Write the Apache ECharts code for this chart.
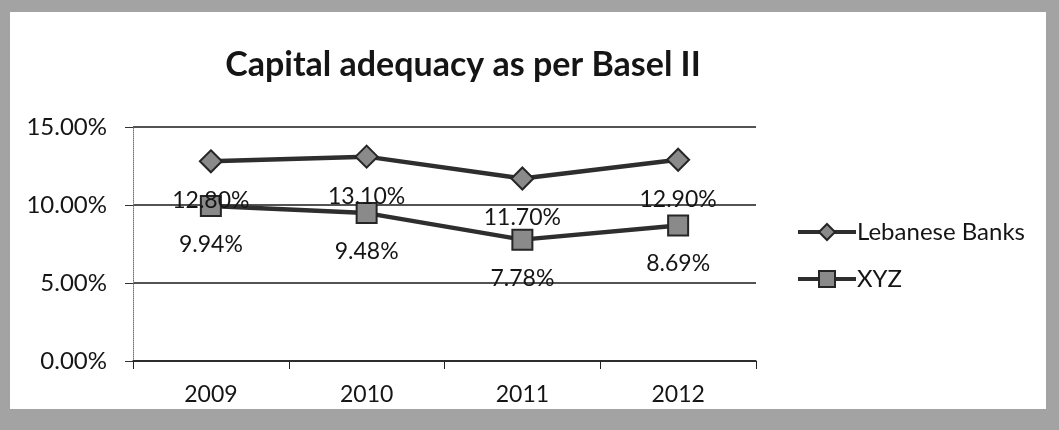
<!DOCTYPE html>
<html>
<head>
<meta charset="utf-8">
<script src="https://cdn.jsdelivr.net/npm/echarts@6/dist/echarts.min.js"></script>
<style>
  html, body { margin: 0; padding: 0; }
  body { width: 1059px; height: 430px; background: #a3a3a3; position: relative; overflow: hidden; }
  #chart { position: absolute; left: 10px; top: 12px; width: 1036px; height: 397px; background: #ffffff; }
</style>
</head>
<body>
<div id="chart"></div>
<script>
// Capital adequacy ratios (%) by year
const years = ['2009', '2010', '2011', '2012'];
const lebaneseBanks = [12.8, 13.1, 11.7, 12.9];
const xyz = [9.94, 9.48, 7.78, 8.69];
const yTicks = [0, 5, 10, 15];

const chart = echarts.init(document.getElementById('chart'), null, { renderer: 'canvas' });
const FONT = 'Lato, "Open Sans", sans-serif';
const INK = '#151515';

function lineSeries(name, data, symbol, size) {
  return {
    name: name,
    type: 'line',
    data: data,
    symbol: symbol,
    symbolSize: size,
    lineStyle: { color: '#2e2e2e', width: 4.5 },
    itemStyle: { color: '#8a8a8a', borderColor: '#262626', borderWidth: 2 },
    label: {
      show: true,
      position: 'bottom',
      distance: 16,
      color: INK,
      fontFamily: FONT,
      fontSize: 23,
      formatter: p => p.value.toFixed(2) + '%'
    },
    animation: false,
    z: 3
  };
}

chart.setOption({
  animation: false,
  title: {
    text: 'Capital adequacy as per Basel II',
    left: 448,
    textAlign: 'center',
    top: 31,
    textStyle: { fontFamily: FONT, fontWeight: 'bold', fontSize: 34, color: INK }
  },
  legend: {
    orient: 'vertical',
    left: 781,
    top: 203,
    itemGap: 23,
    itemWidth: 58,
    itemHeight: 20,
    lineStyle: { width: 4 },
    textStyle: { fontFamily: FONT, fontSize: 24, color: INK, padding: [0, 0, 0, -4] },
    data: ['Lebanese Banks', 'XYZ']
  },
  grid: { left: 123, right: 290, top: 115, bottom: 48 },
  xAxis: {
    type: 'category',
    data: years,
    boundaryGap: true,
    axisLine: { lineStyle: { color: '#222', width: 1.5 } },
    axisTick: { show: true, length: 8, lineStyle: { color: '#222' } },
    axisLabel: { fontFamily: FONT, fontSize: 23, color: INK, margin: 22 }
  },
  yAxis: {
    type: 'value',
    min: 0,
    max: 15,
    interval: 5,
    axisLine: { show: true, lineStyle: { color: '#777', width: 1, type: 'dotted' } },
    axisTick: { show: true, length: 8, lineStyle: { color: '#333' } },
    axisLabel: {
      fontFamily: FONT, fontSize: 24, color: INK, margin: 26,
      formatter: v => yTicks.includes(v) ? v.toFixed(2) + '%' : ''
    },
    splitLine: { show: true, lineStyle: { color: '#1a1a1a', width: 1.5 } }
  },
  series: [
    lineSeries('Lebanese Banks', lebaneseBanks, 'diamond', 22),
    lineSeries('XYZ', xyz, 'rect', 20)
  ]
});
</script>
</body>
</html>
